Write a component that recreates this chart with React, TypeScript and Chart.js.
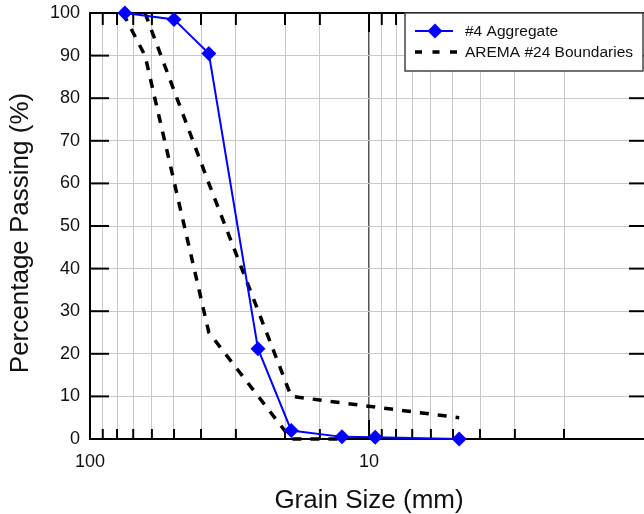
import React, { useEffect, useRef } from "react";
import { Chart, registerables } from "chart.js";

Chart.register(...registerables);

const FONT = '"Liberation Sans", Arial, Helvetica, sans-serif';

// Grain size (mm) and percentage passing
const aggSizes = [75, 50, 37.5, 25, 19, 12.5, 9.5, 4.75];
const aggPassing = [100, 98.5, 90.5, 21.2, 2, 0.5, 0.4, 0];

const lowerSizes = [76.2, 63.5, 37.5, 19, 12.5];
const lowerPassing = [100, 90, 25, 0, 0];

const upperSizes = [63.5, 37.5, 19, 4.75];
const upperPassing = [100, 60, 10, 5];

const xTickLabels = ["100", "10", "1"];
const yTickValues = [0, 10, 20, 30, 40, 50, 60, 70, 80, 90, 100];

const legendLabels = ["#4 Aggregate", "AREMA #24 Boundaries"];
const xTitle = "Grain Size (mm)";
const yTitle = "Percentage Passing (%)";

const toPoints = (xs: number[], ys: number[]) => xs.map((v, i) => ({ x: v, y: ys[i] }));

const decor = {
  id: "decor",
  beforeDatasetsDraw(chart: any) {
    const { ctx, chartArea, scales } = chart;
    const { left, right, top, bottom } = chartArea;
    const x = scales.x;
    const y = scales.y;
    ctx.save();
    ctx.strokeStyle = "#000";
    ctx.lineWidth = 2;
    const line = (x1: number, y1: number, x2: number, y2: number) => {
      ctx.beginPath();
      ctx.moveTo(x1, y1);
      ctx.lineTo(x2, y2);
      ctx.stroke();
    };
    line(left - 1, top, right + 1, top);
    line(right, top, right, bottom);
    for (const v of yTickValues) {
      const py = y.getPixelForValue(v);
      line(left, py, left + 19, py);
      line(right - 19, py, right, py);
    }
    for (const t of x.ticks) {
      if (t.value >= 100 || t.value <= 1) continue;
      const px = x.getPixelForValue(t.value);
      const major = t.value === 10;
      line(px, bottom, px, bottom - (major ? 19 : 10));
      line(px, top, px, top + (major ? 19 : 12));
    }
    ctx.restore();
  },
  afterDraw(chart: any) {
    const { ctx, chartArea } = chart;
    const { left, right, top, bottom } = chartArea;
    ctx.save();
    // axis titles
    ctx.fillStyle = "#111";
    ctx.font = `26px ${FONT}`;
    ctx.textAlign = "center";
    ctx.textBaseline = "alphabetic";
    ctx.fillText(xTitle, (left + right) / 2, bottom + 69);
    ctx.save();
    ctx.translate(27.5, 233);
    ctx.rotate(-Math.PI / 2);
    ctx.fillText(yTitle, 0, 0);
    ctx.restore();

    // legend
    const bx = right - 243;
    const by = top;
    const bw = 238;
    const bh = 58;
    ctx.fillStyle = "#fff";
    ctx.fillRect(bx, by, bw, bh);
    ctx.strokeStyle = "#444";
    ctx.lineWidth = 1.5;
    ctx.strokeRect(bx, by, bw, bh);

    const ds = chart.data.datasets;
    // item 1
    const y1 = by + 18;
    ctx.strokeStyle = ds[0].borderColor;
    ctx.lineWidth = 2;
    ctx.beginPath();
    ctx.moveTo(bx + 10, y1);
    ctx.lineTo(bx + 48, y1);
    ctx.stroke();
    ctx.fillStyle = ds[0].backgroundColor;
    ctx.beginPath();
    const cx = bx + 30;
    ctx.moveTo(cx, y1 - 7.5);
    ctx.lineTo(cx + 7.5, y1);
    ctx.lineTo(cx, y1 + 7.5);
    ctx.lineTo(cx - 7.5, y1);
    ctx.closePath();
    ctx.fill();
    // item 2
    const y2 = by + 39;
    ctx.strokeStyle = ds[1].borderColor;
    ctx.lineWidth = 3.5;
    ctx.setLineDash([7, 10.5]);
    ctx.beginPath();
    ctx.moveTo(bx + 10, y2);
    ctx.lineTo(bx + 52, y2);
    ctx.stroke();
    ctx.setLineDash([]);

    ctx.fillStyle = "#111";
    ctx.font = `15.5px ${FONT}`;
    ctx.textAlign = "left";
    ctx.textBaseline = "middle";
    ctx.fillText(legendLabels[0], bx + 60, y1 + 1);
    ctx.fillText(legendLabels[1], bx + 60, y2 + 1);
    ctx.restore();
  },
};

export default function App() {
  const ref = useRef<HTMLCanvasElement>(null);
  useEffect(() => {
    const canvas = ref.current!;
    const chart = new Chart(canvas, {
      type: "line",
      data: {
        datasets: [
          {
            label: legendLabels[0],
            data: toPoints(aggSizes, aggPassing),
            borderColor: "#0000ff",
            backgroundColor: "#0000ff",
            borderWidth: 2,
            pointStyle: "rectRot",
            pointRadius: 7.5,
            pointBorderWidth: 0,
            pointBackgroundColor: "#0000ff",
            tension: 0,
            clip: false,
          },
          {
            label: legendLabels[1],
            data: toPoints(lowerSizes, lowerPassing),
            borderColor: "#000",
            backgroundColor: "#000",
            borderWidth: 3.5,
            borderDash: [9, 9],
            pointRadius: 0,
            tension: 0,
            clip: false,
          },
          {
            label: legendLabels[1] + " upper",
            data: toPoints(upperSizes, upperPassing),
            borderColor: "#000",
            backgroundColor: "#000",
            borderWidth: 3.5,
            borderDash: [9, 9],
            pointRadius: 0,
            tension: 0,
            clip: false,
          },
        ],
      } as any,
      options: {
        animation: false,
        responsive: false,
        maintainAspectRatio: false,
        layout: { padding: { top: 13, right: 52, left: 0, bottom: 0 } },
        plugins: {
          legend: { display: false },
          tooltip: { enabled: false },
          title: { display: false },
        },
        scales: {
          x: {
            type: "logarithmic",
            reverse: true,
            min: 1,
            max: 100,
            position: "bottom",
            border: { color: "#000", width: 2 },
            grid: {
              drawTicks: false,
              color: (c: any) => (c.tick && c.tick.value === 10 ? "#555" : "#c8c8c8"),
              lineWidth: (c: any) => (c.tick && c.tick.value === 10 ? 1.5 : 1),
            },
            ticks: {
              autoSkip: false,
              maxRotation: 0,
              padding: 12,
              color: "#111",
              font: { family: FONT, size: 18 },
              callback: (v: any) => {
                const s = String(Number(v));
                return xTickLabels.includes(s) ? s : "";
              },
            },
            afterFit: (s: any) => {
              s.height = 75;
              s.paddingLeft = 0;
              s.paddingRight = 0;
            },
          },
          y: {
            type: "linear",
            min: 0,
            max: 100,
            position: "left",
            border: { color: "#000", width: 2 },
            grid: { drawTicks: false, color: "#c8c8c8", lineWidth: 1 },
            ticks: {
              stepSize: 10,
              padding: 10,
              color: "#111",
              font: { family: FONT, size: 18 },
            },
            afterFit: (s: any) => {
              s.width = 90;
              s.paddingTop = 0;
              s.paddingBottom = 0;
            },
          },
        },
      } as any,
      plugins: [decor],
    });
    return () => chart.destroy();
  }, []);
  return (
    <div
      style={{
        position: "fixed",
        left: 0,
        top: 0,
        width: 644,
        height: 514,
        overflow: "hidden",
        background: "#fff",
      }}
    >
      <canvas ref={ref} width={700} height={514} style={{ display: "block", width: 700, height: 514 }} />
    </div>
  );
}
